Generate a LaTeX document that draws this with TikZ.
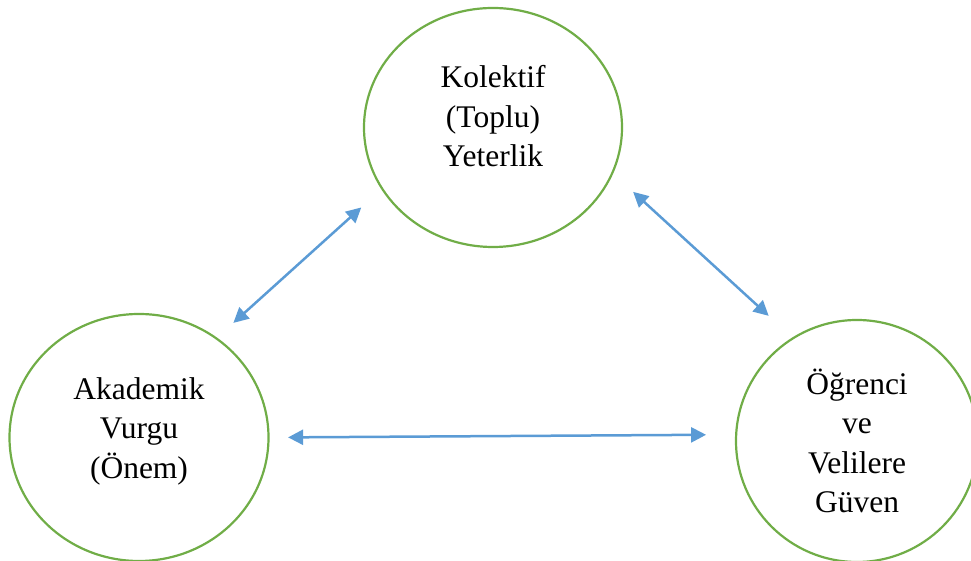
\documentclass[tikz,border=0pt]{standalone}
\usepackage{fontspec}
\setmainfont{Liberation Serif}
\usetikzlibrary{arrows.meta,shapes.geometric}
\definecolor{yesil}{HTML}{70AD47}
\definecolor{mavi}{HTML}{5B9BD5}
\begin{document}
\begin{tikzpicture}[x=1pt,y=1pt,line join=round,line cap=round,
	halka/.style={draw=yesil,line width=2.2pt,ellipse,inner sep=0pt},
	yazi/.style={align=center,font=\fontsize{31.5}{39.5}\selectfont},
	ok/.style={draw=mavi,line width=2.5pt,line cap=butt,{Triangle[length=15pt,width=15pt]}-{Triangle[length=15pt,width=15pt]}}]
	\useasboundingbox (0,0) rectangle (971,561);
	% halkalar
	\node[halka,minimum width=258pt,minimum height=239pt] (K) at (493,433.5) {};
	\node[halka,minimum width=259pt,minimum height=247pt] (A) at (139,123.5) {};
	\node[halka,minimum width=242pt,minimum height=242pt] (O) at (857,120) {};
	% yazilar
	\node[yazi] (Kt) at ([yshift=11pt]K.center) {Kolektif\\(Toplu)\\Yeterlik};
	\node[yazi] (At) at ([yshift=6.5pt]A.center) {Akademik\\Vurgu\\(Önem)};
	\node[yazi] (Ot) at (O.center) {Öğrenci\\ve\\Velilere\\Güven};
	% oklar
	\draw[ok,shorten <=27pt,shorten >=22pt] (K.209.75) -- (A.52.6);
	\draw[ok,shorten <=27pt,shorten >=32pt] (K.339.2) -- (O.122.6);
	\draw[ok,shorten <=18.5pt,shorten >=29pt] (A.0) -- (O.177.6);
\end{tikzpicture}
\end{document}
